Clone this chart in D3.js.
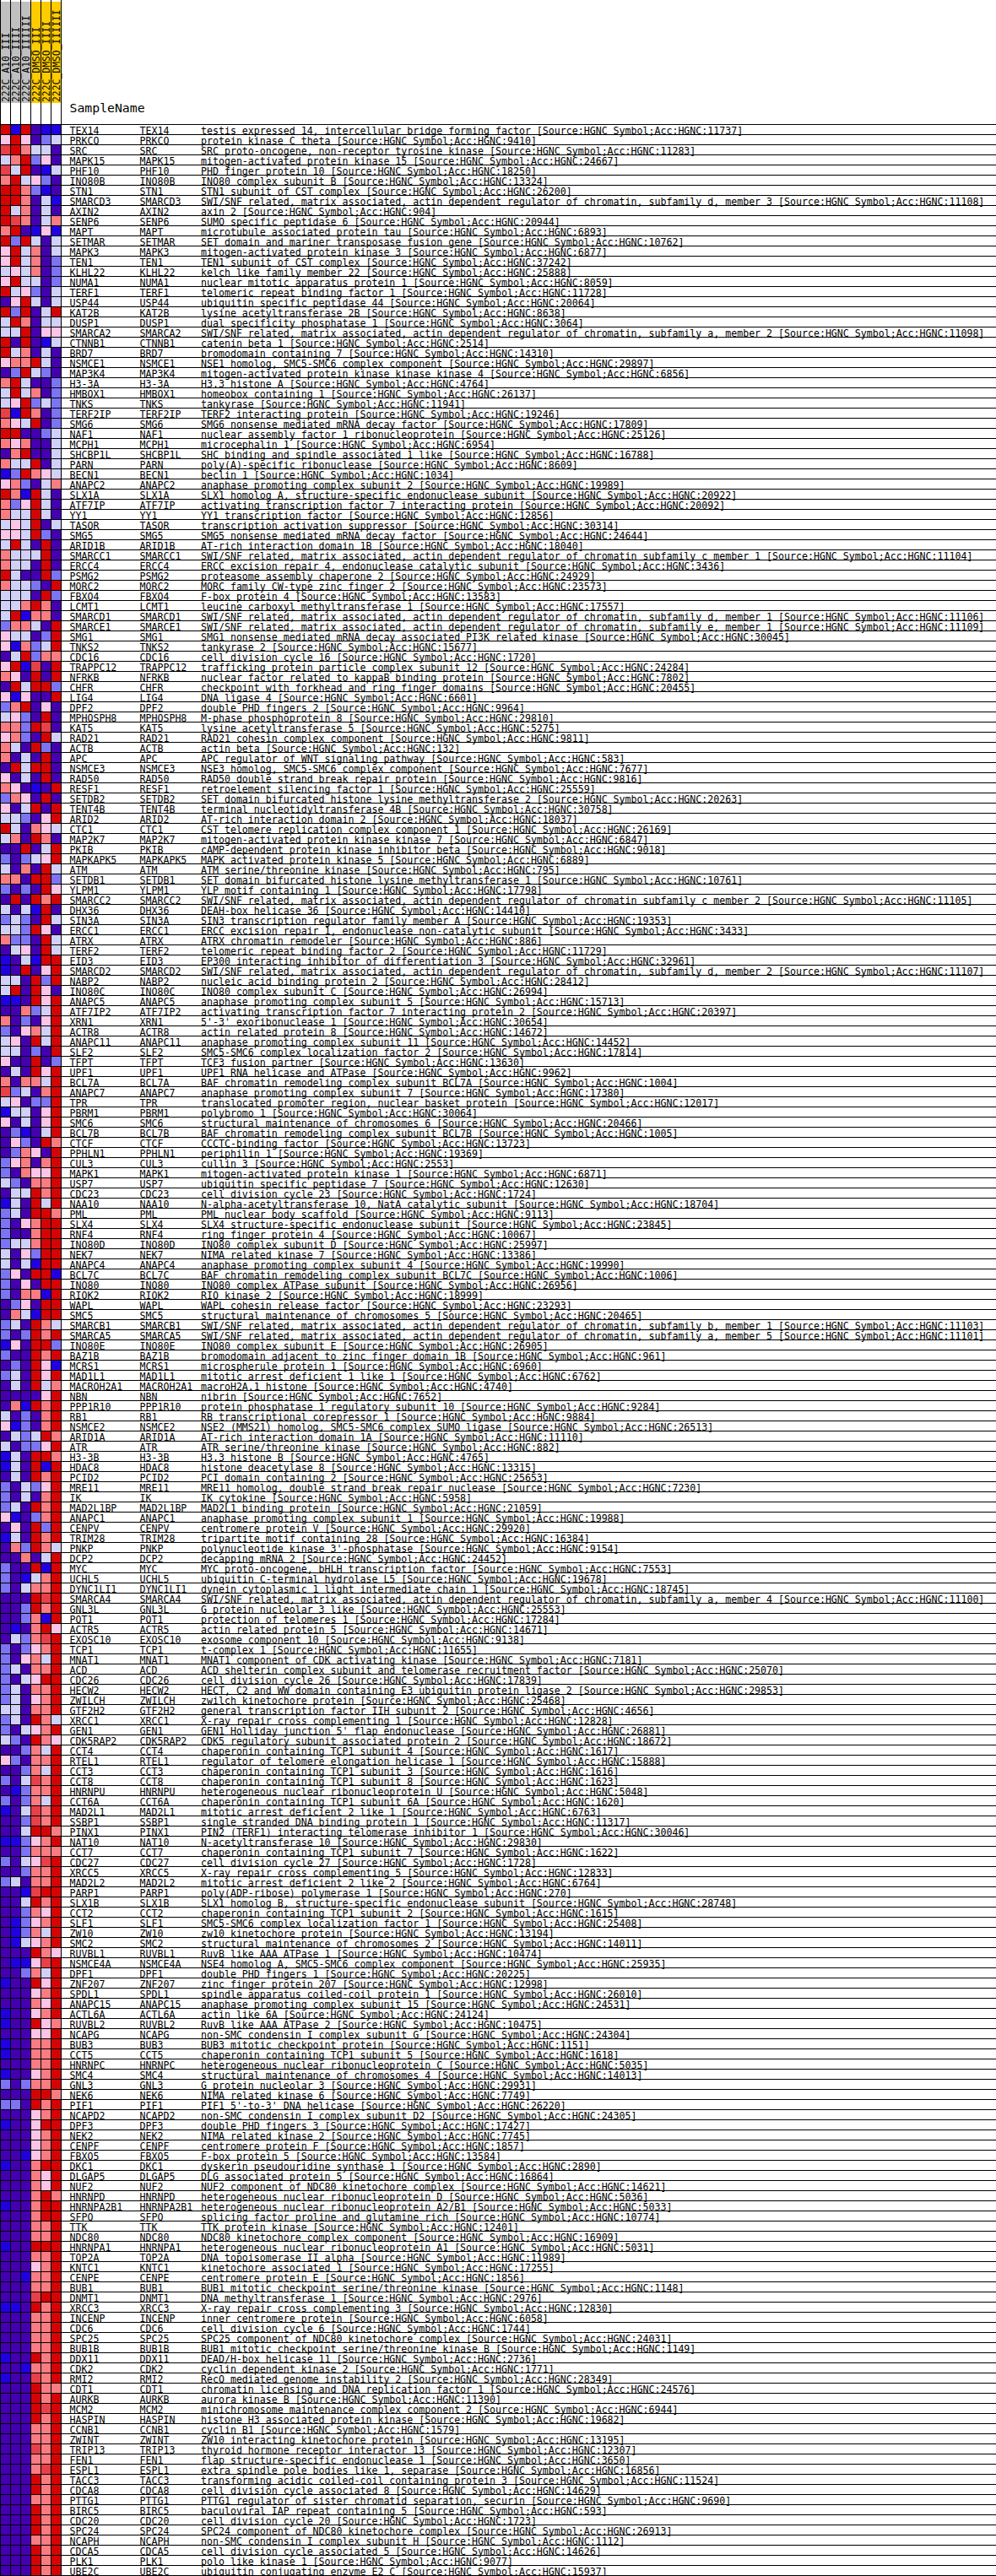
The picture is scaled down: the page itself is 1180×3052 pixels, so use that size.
<!DOCTYPE html>
<html>
<head>
<meta charset="utf-8">
<script src="https://cdn.jsdelivr.net/npm/d3@7"></script>
<style>
  html, body { margin: 0; padding: 0; background: #ffffff; }
  svg { display: block; }
  text { font-family: "DejaVu Sans Mono", monospace; fill: #000; }
</style>
</head>
<body>
<div id="chart"></div>
<script>
// ---------------- data ----------------
const sampleNames = ["222C_A10_III", "222C_A10_IIII", "222C_A10_IIIIII", "222C_DMSO_III", "222C_DMSO_IIII", "222C_DMSO_IIIIII"];
const sampleGroups = ["A10", "A10", "A10", "DMSO", "DMSO", "DMSO"];

const genes = ["TEX14","PRKCQ","SRC","MAPK15","PHF10","INO80B","STN1","SMARCD3","AXIN2","SENP6","MAPT","SETMAR","MAPK3","TEN1","KLHL22","NUMA1","TERF1","USP44","KAT2B","DUSP1","SMARCA2","CTNNB1","BRD7","NSMCE1","MAP3K4","H3-3A","HMBOX1","TNKS","TERF2IP","SMG6","NAF1","MCPH1","SHCBP1L","PARN","BECN1","ANAPC2","SLX1A","ATF7IP","YY1","TASOR","SMG5","ARID1B","SMARCC1","ERCC4","PSMG2","MORC2","FBXO4","LCMT1","SMARCD1","SMARCE1","SMG1","TNKS2","CDC16","TRAPPC12","NFRKB","CHFR","LIG4","DPF2","MPHOSPH8","KAT5","RAD21","ACTB","APC","NSMCE3","RAD50","RESF1","SETDB2","TENT4B","ARID2","CTC1","MAP2K7","PKIB","MAPKAPK5","ATM","SETDB1","YLPM1","SMARCC2","DHX36","SIN3A","ERCC1","ATRX","TERF2","EID3","SMARCD2","NABP2","INO80C","ANAPC5","ATF7IP2","XRN1","ACTR8","ANAPC11","SLF2","TFPT","UPF1","BCL7A","ANAPC7","TPR","PBRM1","SMC6","BCL7B","CTCF","PPHLN1","CUL3","MAPK1","USP7","CDC23","NAA10","PML","SLX4","RNF4","INO80D","NEK7","ANAPC4","BCL7C","INO80","RIOK2","WAPL","SMC5","SMARCB1","SMARCA5","INO80E","BAZ1B","MCRS1","MAD1L1","MACROH2A1","NBN","PPP1R10","RB1","NSMCE2","ARID1A","ATR","H3-3B","HDAC8","PCID2","MRE11","IK","MAD2L1BP","ANAPC1","CENPV","TRIM28","PNKP","DCP2","MYC","UCHL5","DYNC1LI1","SMARCA4","GNL3L","POT1","ACTR5","EXOSC10","TCP1","MNAT1","ACD","CDC26","HECW2","ZWILCH","GTF2H2","XRCC1","GEN1","CDK5RAP2","CCT4","RTEL1","CCT3","CCT8","HNRNPU","CCT6A","MAD2L1","SSBP1","PINX1","NAT10","CCT7","CDC27","XRCC5","MAD2L2","PARP1","SLX1B","CCT2","SLF1","ZW10","SMC2","RUVBL1","NSMCE4A","DPF1","ZNF207","SPDL1","ANAPC15","ACTL6A","RUVBL2","NCAPG","BUB3","CCT5","HNRNPC","SMC4","GNL3","NEK6","PIF1","NCAPD2","DPF3","NEK2","CENPF","FBXO5","DKC1","DLGAP5","NUF2","HNRNPD","HNRNPA2B1","SFPQ","TTK","NDC80","HNRNPA1","TOP2A","KNTC1","CENPE","BUB1","DNMT1","XRCC3","INCENP","CDC6","SPC25","BUB1B","DDX11","CDK2","RMI2","CDT1","AURKB","MCM2","HASPIN","CCNB1","ZWINT","TRIP13","FEN1","ESPL1","TACC3","CDCA8","PTTG1","BIRC5","CDC20","SPC24","NCAPH","CDCA5","PLK1","UBE2C"];

const descriptions = ["testis expressed 14, intercellular bridge forming factor","protein kinase C theta","SRC proto-oncogene, non-receptor tyrosine kinase","mitogen-activated protein kinase 15","PHD finger protein 10","INO80 complex subunit B","STN1 subunit of CST complex","SWI/SNF related, matrix associated, actin dependent regulator of chromatin, subfamily d, member 3","axin 2","SUMO specific peptidase 6","microtubule associated protein tau","SET domain and mariner transposase fusion gene","mitogen-activated protein kinase 3","TEN1 subunit of CST complex","kelch like family member 22","nuclear mitotic apparatus protein 1","telomeric repeat binding factor 1","ubiquitin specific peptidase 44","lysine acetyltransferase 2B","dual specificity phosphatase 1","SWI/SNF related, matrix associated, actin dependent regulator of chromatin, subfamily a, member 2","catenin beta 1","bromodomain containing 7","NSE1 homolog, SMC5-SMC6 complex component","mitogen-activated protein kinase kinase kinase 4","H3.3 histone A","homeobox containing 1","tankyrase","TERF2 interacting protein","SMG6 nonsense mediated mRNA decay factor","nuclear assembly factor 1 ribonucleoprotein","microcephalin 1","SHC binding and spindle associated 1 like","poly(A)-specific ribonuclease","beclin 1","anaphase promoting complex subunit 2","SLX1 homolog A, structure-specific endonuclease subunit","activating transcription factor 7 interacting protein","YY1 transcription factor","transcription activation suppressor","SMG5 nonsense mediated mRNA decay factor","AT-rich interaction domain 1B","SWI/SNF related, matrix associated, actin dependent regulator of chromatin subfamily c member 1","ERCC excision repair 4, endonuclease catalytic subunit","proteasome assembly chaperone 2","MORC family CW-type zinc finger 2","F-box protein 4","leucine carboxyl methyltransferase 1","SWI/SNF related, matrix associated, actin dependent regulator of chromatin, subfamily d, member 1","SWI/SNF related, matrix associated, actin dependent regulator of chromatin, subfamily e, member 1","SMG1 nonsense mediated mRNA decay associated PI3K related kinase","tankyrase 2","cell division cycle 16","trafficking protein particle complex subunit 12","nuclear factor related to kappaB binding protein","checkpoint with forkhead and ring finger domains","DNA ligase 4","double PHD fingers 2","M-phase phosphoprotein 8","lysine acetyltransferase 5","RAD21 cohesin complex component","actin beta","APC regulator of WNT signaling pathway","NSE3 homolog, SMC5-SMC6 complex component","RAD50 double strand break repair protein","retroelement silencing factor 1","SET domain bifurcated histone lysine methyltransferase 2","terminal nucleotidyltransferase 4B","AT-rich interaction domain 2","CST telomere replication complex component 1","mitogen-activated protein kinase kinase 7","cAMP-dependent protein kinase inhibitor beta","MAPK activated protein kinase 5","ATM serine/threonine kinase","SET domain bifurcated histone lysine methyltransferase 1","YLP motif containing 1","SWI/SNF related, matrix associated, actin dependent regulator of chromatin subfamily c member 2","DEAH-box helicase 36","SIN3 transcription regulator family member A","ERCC excision repair 1, endonuclease non-catalytic subunit","ATRX chromatin remodeler","telomeric repeat binding factor 2","EP300 interacting inhibitor of differentiation 3","SWI/SNF related, matrix associated, actin dependent regulator of chromatin, subfamily d, member 2","nucleic acid binding protein 2","INO80 complex subunit C","anaphase promoting complex subunit 5","activating transcription factor 7 interacting protein 2","5'-3' exoribonuclease 1","actin related protein 8","anaphase promoting complex subunit 11","SMC5-SMC6 complex localization factor 2","TCF3 fusion partner","UPF1 RNA helicase and ATPase","BAF chromatin remodeling complex subunit BCL7A","anaphase promoting complex subunit 7","translocated promoter region, nuclear basket protein","polybromo 1","structural maintenance of chromosomes 6","BAF chromatin remodeling complex subunit BCL7B","CCCTC-binding factor","periphilin 1","cullin 3","mitogen-activated protein kinase 1","ubiquitin specific peptidase 7","cell division cycle 23","N-alpha-acetyltransferase 10, NatA catalytic subunit","PML nuclear body scaffold","SLX4 structure-specific endonuclease subunit","ring finger protein 4","INO80 complex subunit D","NIMA related kinase 7","anaphase promoting complex subunit 4","BAF chromatin remodeling complex subunit BCL7C","INO80 complex ATPase subunit","RIO kinase 2","WAPL cohesin release factor","structural maintenance of chromosomes 5","SWI/SNF related, matrix associated, actin dependent regulator of chromatin, subfamily b, member 1","SWI/SNF related, matrix associated, actin dependent regulator of chromatin, subfamily a, member 5","INO80 complex subunit E","bromodomain adjacent to zinc finger domain 1B","microspherule protein 1","mitotic arrest deficient 1 like 1","macroH2A.1 histone","nibrin","protein phosphatase 1 regulatory subunit 10","RB transcriptional corepressor 1","NSE2 (MMS21) homolog, SMC5-SMC6 complex SUMO ligase","AT-rich interaction domain 1A","ATR serine/threonine kinase","H3.3 histone B","histone deacetylase 8","PCI domain containing 2","MRE11 homolog, double strand break repair nuclease","IK cytokine","MAD2L1 binding protein","anaphase promoting complex subunit 1","centromere protein V","tripartite motif containing 28","polynucleotide kinase 3'-phosphatase","decapping mRNA 2","MYC proto-oncogene, bHLH transcription factor","ubiquitin C-terminal hydrolase L5","dynein cytoplasmic 1 light intermediate chain 1","SWI/SNF related, matrix associated, actin dependent regulator of chromatin, subfamily a, member 4","G protein nucleolar 3 like","protection of telomeres 1","actin related protein 5","exosome component 10","t-complex 1","MNAT1 component of CDK activating kinase","ACD shelterin complex subunit and telomerase recruitment factor","cell division cycle 26","HECT, C2 and WW domain containing E3 ubiquitin protein ligase 2","zwilch kinetochore protein","general transcription factor IIH subunit 2","X-ray repair cross complementing 1","GEN1 Holliday junction 5' flap endonuclease","CDK5 regulatory subunit associated protein 2","chaperonin containing TCP1 subunit 4","regulator of telomere elongation helicase 1","chaperonin containing TCP1 subunit 3","chaperonin containing TCP1 subunit 8","heterogeneous nuclear ribonucleoprotein U","chaperonin containing TCP1 subunit 6A","mitotic arrest deficient 2 like 1","single stranded DNA binding protein 1","PIN2 (TERF1) interacting telomerase inhibitor 1","N-acetyltransferase 10","chaperonin containing TCP1 subunit 7","cell division cycle 27","X-ray repair cross complementing 5","mitotic arrest deficient 2 like 2","poly(ADP-ribose) polymerase 1","SLX1 homolog B, structure-specific endonuclease subunit","chaperonin containing TCP1 subunit 2","SMC5-SMC6 complex localization factor 1","zw10 kinetochore protein","structural maintenance of chromosomes 2","RuvB like AAA ATPase 1","NSE4 homolog A, SMC5-SMC6 complex component","double PHD fingers 1","zinc finger protein 207","spindle apparatus coiled-coil protein 1","anaphase promoting complex subunit 15","actin like 6A","RuvB like AAA ATPase 2","non-SMC condensin I complex subunit G","BUB3 mitotic checkpoint protein","chaperonin containing TCP1 subunit 5","heterogeneous nuclear ribonucleoprotein C","structural maintenance of chromosomes 4","G protein nucleolar 3","NIMA related kinase 6","PIF1 5'-to-3' DNA helicase","non-SMC condensin I complex subunit D2","double PHD fingers 3","NIMA related kinase 2","centromere protein F","F-box protein 5","dyskerin pseudouridine synthase 1","DLG associated protein 5","NUF2 component of NDC80 kinetochore complex","heterogeneous nuclear ribonucleoprotein D","heterogeneous nuclear ribonucleoprotein A2/B1","splicing factor proline and glutamine rich","TTK protein kinase","NDC80 kinetochore complex component","heterogeneous nuclear ribonucleoprotein A1","DNA topoisomerase II alpha","kinetochore associated 1","centromere protein E","BUB1 mitotic checkpoint serine/threonine kinase","DNA methyltransferase 1","X-ray repair cross complementing 3","inner centromere protein","cell division cycle 6","SPC25 component of NDC80 kinetochore complex","BUB1 mitotic checkpoint serine/threonine kinase B","DEAD/H-box helicase 11","cyclin dependent kinase 2","RecQ mediated genome instability 2","chromatin licensing and DNA replication factor 1","aurora kinase B","minichromosome maintenance complex component 2","histone H3 associated protein kinase","cyclin B1","ZW10 interacting kinetochore protein","thyroid hormone receptor interactor 13","flap structure-specific endonuclease 1","extra spindle pole bodies like 1, separase","transforming acidic coiled-coil containing protein 3","cell division cycle associated 8","PTTG1 regulator of sister chromatid separation, securin","baculoviral IAP repeat containing 5","cell division cycle 20","SPC24 component of NDC80 kinetochore complex","non-SMC condensin I complex subunit H","cell division cycle associated 5","polo like kinase 1","ubiquitin conjugating enzyme E2 C"];

const hgncAcc = [11737,9410,11283,24667,18250,13324,26200,11108,904,20944,6893,10762,6877,37242,25888,8059,11728,20064,8638,3064,11098,2514,14310,29897,6856,4764,26137,11941,19246,17809,25126,6954,16788,8609,1034,19989,20922,20092,12856,30314,24644,18040,11104,3436,24929,23573,13583,17557,11106,11109,30045,15677,1720,24284,7802,20455,6601,9964,29810,5275,9811,132,583,7677,9816,25559,20263,30758,18037,26169,6847,9018,6889,795,10761,17798,11105,14410,19353,3433,886,11729,32961,11107,28412,26994,15713,20397,30654,14672,14452,17814,13630,9962,1004,17380,12017,30064,20466,1005,13723,19369,2553,6871,12630,1724,18704,9113,23845,10067,25997,13386,19990,1006,26956,18999,23293,20465,11103,11101,26905,961,6960,6762,4740,7652,9284,9884,26513,11110,882,4765,13315,25653,7230,5958,21059,19988,29920,16384,9154,24452,7553,19678,18745,11100,25553,17284,14671,9138,11655,7181,25070,17839,29853,25468,4656,12828,26881,18672,1617,15888,1616,1623,5048,1620,6763,11317,30046,29830,1622,1728,12833,6764,270,28748,1615,25408,13194,14011,10474,25935,20225,12998,26010,24531,24124,10475,24304,1151,1618,5035,14013,29931,7749,26220,24305,17427,7745,1857,13584,2890,16864,14621,5036,5033,10774,12401,16909,5031,11989,17255,1856,1148,2976,12830,6058,1744,24031,1149,2736,1771,28349,24576,11390,6944,19682,1579,13195,12307,3650,16856,11524,14629,9690,593,1723,26913,1112,14626,9077,15937];

// row-standardised expression level per sample (binned, -4 .. 4, no zero)
const values = [
[4,-3,4,-4,-3,-3],[1,4,1,-4,-2,-1],[3,4,2,-1,-1,-4],[-1,2,4,-2,1,-4],[3,-1,4,-4,-3,-1],
[2,4,-1,1,-2,-4],[4,4,2,-2,-3,-4],[4,4,2,-4,-1,-3],[4,-1,2,-4,-1,-4],[4,3,2,-4,-1,2],
[2,4,-4,-3,1,-3],[4,-2,4,-1,-4,-1],[1,4,-1,2,-4,-1],[1,4,-1,2,-4,-2],[-1,1,-1,2,-4,-2],
[1,4,-1,-1,-4,-2],[4,-1,1,-2,-4,-1],[-4,1,4,-1,-4,-1],[4,-2,4,-4,-1,4],[-1,4,2,-4,-1,-1],
[-1,-1,4,-4,1,1],[4,-4,4,-4,-3,-1],[4,-1,2,-4,-1,-4],[1,2,2,4,-1,-4],[-4,-2,4,-1,-2,-4],
[2,4,-1,-4,-4,-2],[-1,4,-1,2,-4,-2],[-1,1,4,-2,-1,-2],[3,-3,4,2,-4,-2],[2,1,-1,4,-4,-2],
[4,4,-4,-4,-2,-1],[2,1,2,-4,-4,-1],[-4,2,4,-4,-4,-1],[2,-1,-1,4,-4,-1],[-3,-2,4,2,1,-1],
[1,2,-2,-4,-1,2],[4,2,-3,4,-1,-4],[2,-2,1,4,-1,-4],[2,-1,-1,4,-1,-4],[-1,1,-1,4,-4,-1],
[1,1,-1,4,-2,-4],[-1,4,-1,-4,4,-4],[2,-1,-1,-1,4,-4],[2,-1,-1,-4,4,-4],[4,-1,-4,-4,4,-2],
[2,-1,-1,-2,-4,4],[-1,-1,-1,-4,4,-2],[-1,-1,2,4,2,-4],[-1,4,-3,2,2,-4],[-2,2,2,-1,-4,4],
[1,-1,-1,-4,-2,4],[1,-3,2,-2,-1,4],[-4,-1,4,-2,2,2],[1,4,-3,3,-4,4],[2,1,-4,4,-4,4],
[-4,4,-1,4,4,-2],[1,-3,1,-4,-4,4],[-2,2,4,-4,1,-4],[-1,1,-2,-4,4,-4],[2,2,-2,4,3,-4],
[1,2,-2,-4,4,-1],[2,-1,-4,4,-2,-4],[2,-4,-1,-4,4,-4],[-4,4,-1,4,4,-4],[1,-4,-1,-4,4,-4],
[2,1,-4,-3,-4,4],[-2,2,1,-4,4,-4],[1,-4,-1,4,-4,4],[-1,-1,-2,-4,1,4],[4,-1,-4,2,1,-1],
[-1,2,-4,4,2,-4],[-4,-4,4,-4,-1,4],[-2,-4,-2,-1,1,4],[-1,-4,2,-4,4,-1],[2,2,-4,4,4,-2],
[-2,-4,-2,-4,4,1],[-4,4,-4,4,2,4],[-1,-4,-1,-3,4,-4],[-2,-1,-2,-4,4,-1],[-1,-1,-2,4,1,-4],
[2,-2,-2,-4,4,-1],[-4,-1,1,-4,4,-1],[-3,-4,-1,-3,4,4],[-3,-4,4,-4,1,4],[-1,-1,-4,4,-2,4],
[-1,4,-4,4,1,-4],[-3,-3,-4,4,1,4],[-4,-4,2,-2,-1,4],[2,-4,-2,-4,1,4],[-2,-4,1,2,-1,4],
[-1,1,-4,4,-1,4],[-1,-1,-4,-2,-4,4],[1,-4,-4,4,-4,-2],[-4,-1,-4,4,1,4],[2,-4,2,2,-1,4],
[3,-2,-1,-4,2,4],[-1,1,-4,-2,-2,4],[-3,-1,-1,-4,1,4],[1,-4,-1,-4,1,4],[-4,-2,-3,-4,-1,4],
[-4,1,-2,-4,4,2],[-4,-2,2,1,-4,4],[-2,1,2,-4,2,4],[-2,-4,2,1,1,4],[-1,-2,-4,2,2,4],
[-4,-1,-1,4,2,4],[-3,-1,-4,4,-1,4],[-2,-1,-4,4,4,2],[-2,-4,1,2,4,4],[-2,-4,-4,2,4,4],
[-2,-1,-1,2,4,4],[-1,-4,1,-2,4,4],[-1,-4,-1,-3,4,4],[-2,1,-4,4,4,-3],[-2,-4,1,-4,4,4],
[-2,-4,2,2,-3,4],[-4,-2,1,-4,4,4],[-4,2,-1,-3,4,4],[-2,-1,-4,4,2,-1],[-2,-4,-2,4,2,4],
[-3,1,-4,4,4,-2],[-2,-4,-4,4,2,4],[-4,-2,-4,4,1,-3],[-2,-1,-4,4,1,4],[-4,-1,-4,4,-1,2],
[-4,-4,-4,-4,1,4],[-4,2,-3,4,2,4],[-1,-4,-2,-4,2,4],[1,-3,-2,-4,2,4],[-4,-1,-2,-1,4,2],
[-1,-4,-2,-2,1,4],[-3,-1,-4,4,4,2],[-3,-1,-4,4,-3,4],[-4,-1,-4,4,2,4],[-2,-4,-1,-2,1,4],
[-2,-4,-1,-4,2,4],[-2,-1,-4,4,2,4],[1,-3,-4,-2,2,4],[-4,1,-4,4,-2,4],[-3,-1,-4,4,2,4],
[-4,2,-2,4,2,-1],[-4,-4,2,-4,-1,4],[-2,-4,-4,4,-3,4],[-2,-4,-3,-1,2,4],[-2,-4,-1,2,2,4],
[-4,-4,-4,4,3,4],[-4,-4,-2,4,2,4],[-4,-4,-2,2,-3,4],[-4,-3,-4,2,4,1],[-4,-1,-2,2,3,4],
[-2,-4,-2,1,2,4],[-2,-4,1,2,-1,4],[-2,-1,-4,2,2,4],[-2,-4,-1,1,4,4],[-2,-1,-4,2,2,4],
[-2,-1,-4,1,2,4],[-1,-1,-4,2,2,4],[-2,-1,-4,4,2,-1],[-2,-4,-1,1,2,4],[-1,-2,-4,4,2,1],
[-4,-4,-2,2,-1,4],[1,-2,-4,2,2,4],[-4,-4,-2,2,-1,4],[-2,-4,-1,3,2,4],[-4,-3,-2,2,2,4],
[-2,-4,-2,2,-1,4],[-3,-4,-1,3,2,4],[-4,-4,-2,3,2,4],[-4,-4,-1,4,4,2],[-3,-3,-2,1,2,4],
[-4,-4,-2,2,2,2],[-2,-4,-1,1,3,4],[-4,-4,-2,2,2,4],[-2,-1,-4,2,2,4],[-4,-4,-3,3,4,4],
[-4,-4,-1,4,2,4],[-4,-4,-2,2,1,4],[-4,-3,-2,1,2,4],[-4,-3,-2,2,-1,4],[-4,-3,-1,1,2,4],
[-4,-4,-4,4,2,1],[-4,-3,-3,1,3,4],[-4,-4,-2,2,-1,4],[-3,-4,-4,4,1,4],[-4,-4,-4,1,2,4],
[-4,-4,-4,2,1,4],[-3,-4,-4,1,2,4],[-3,-4,-4,4,1,2],[-4,-4,-4,1,1,4],[-3,-4,-4,2,2,4],
[-3,-4,-4,2,2,4],[-4,-4,-4,2,2,4],[-3,-4,-4,1,2,4],[-2,-4,-2,2,2,4],[-4,-4,-4,4,4,2],
[-2,-2,-4,4,2,4],[-4,-4,-4,1,2,4],[-3,-4,-4,1,4,4],[-4,-4,-4,1,2,4],[-4,-4,-4,1,2,4],
[-4,-4,-3,1,2,4],[-3,-4,-4,2,4,4],[-4,-4,-4,2,1,4],[-4,-4,-4,2,1,4],[-4,-4,-4,2,4,2],
[-3,-4,-4,2,4,4],[-4,-4,-4,2,4,4],[-4,-4,-4,2,2,4],[-4,-4,-4,2,2,4],[-3,-4,-4,4,4,4],
[-4,-4,-4,2,2,4],[-4,-4,-4,1,2,4],[-4,-4,-3,2,2,4],[-4,-4,-4,2,2,4],[-4,-4,-4,3,4,4],
[-3,-3,-4,4,2,4],[-4,-4,-4,2,2,4],[-4,-4,-4,2,2,4],[-4,-4,-4,2,2,4],[-4,-4,-4,2,2,4],
[-3,-4,-4,4,2,4],[-4,-4,-3,2,2,4],[-3,-4,-4,3,2,4],[-4,-4,-4,4,2,2],[-4,-4,-4,4,2,4],
[-4,-4,-4,4,3,4],[-4,-4,-4,4,2,4],[-4,-4,-4,2,2,4],[-4,-4,-4,2,2,4],[-4,-4,-4,3,2,4],
[-4,-4,-4,2,2,4],[-4,-4,-4,2,3,4],[-4,-4,-4,4,2,4],[-4,-4,-4,4,2,4],[-4,-4,-4,2,2,4],
[-4,-4,-4,4,2,4],[-4,-4,-4,4,2,4],[-4,-4,-4,4,2,4],[-4,-4,-4,2,2,4],[-4,-4,-4,4,2,4],
[-4,-4,-4,4,2,4],[-4,-4,-4,4,2,4]
];

const levelDomain = [-4, -3, -2, -1, 1, 2, 3, 4];
const levelColors = ["#4400b0", "#2000e0", "#7c74f2", "#d0d0f8", "#fcc4e6", "#f87c82", "#e84048", "#d40404"];
const groupColors = { A10: "#c0c0c0", DMSO: "#ffcc00" };

// ---------------- layout ----------------
const W = 1180, H = 3052;
const cell = 12;
const gridTop = 147.5;
const headerTop = 2, headerBottom = 122;
const labelX1 = 82.5, labelX2 = 165.5, descX = 238;

const svg = d3.select("#chart").append("svg")
  .attr("width", W).attr("height", H)
  .attr("viewBox", `0 0 ${W} ${H}`);

const x = d3.scaleBand().domain(d3.range(sampleNames.length)).range([0.5, 0.5 + cell * sampleNames.length]).padding(0);
const y = d3.scaleBand().domain(d3.range(genes.length)).range([gridTop, gridTop + cell * genes.length]).padding(0);
const color = d3.scaleLinear().domain(levelDomain).range(levelColors).interpolate(d3.interpolateRgb);

// header column colour blocks
svg.append("g").selectAll("rect")
  .data(sampleNames)
  .join("rect")
  .attr("x", (d, i) => x(i))
  .attr("y", headerTop)
  .attr("width", x.bandwidth())
  .attr("height", headerBottom - headerTop)
  .attr("fill", (d, i) => groupColors[sampleGroups[i]]);

// header rotated labels
svg.append("g").selectAll("text")
  .data(sampleNames)
  .join("text")
  .attr("transform", (d, i) => `translate(${x(i) + x.bandwidth() - 1.8},${headerBottom - 1}) rotate(-90)`)
  .attr("font-size", 11.4)
  .text(d => d);

svg.append("text")
  .attr("x", labelX1).attr("y", 133)
  .attr("font-size", 14.8)
  .text("SampleName");

// heatmap cells
const rows = svg.append("g").selectAll("g")
  .data(values)
  .join("g")
  .attr("transform", (d, i) => `translate(0,${y(i)})`);

rows.selectAll("rect")
  .data(d => d)
  .join("rect")
  .attr("x", (v, j) => x(j))
  .attr("y", 0)
  .attr("width", x.bandwidth())
  .attr("height", y.bandwidth())
  .attr("fill", v => color(v));

// horizontal row separators (full width)
const hLines = d3.range(genes.length + 1).map(i => gridTop + i * cell);
svg.append("g").selectAll("line")
  .data(hLines)
  .join("line")
  .attr("x1", 0).attr("x2", W)
  .attr("y1", d => d).attr("y2", d => d)
  .attr("stroke", "#000").attr("stroke-width", 1);

// vertical column separators (from top to bottom)
const vLines = d3.range(sampleNames.length + 1).map(j => 0.5 + j * cell);
svg.append("g").selectAll("line")
  .data(vLines)
  .join("line")
  .attr("x1", d => d).attr("x2", d => d)
  .attr("y1", 0).attr("y2", H)
  .attr("stroke", "#000").attr("stroke-width", 1);

// text columns
const txt = svg.append("g").attr("font-size", 11.6);
txt.selectAll("text.g1")
  .data(genes)
  .join("text").attr("class", "g1")
  .attr("x", labelX1).attr("y", (d, i) => y(i) + y.bandwidth() - 0.5)
  .text(d => d);
txt.selectAll("text.g2")
  .data(genes)
  .join("text").attr("class", "g2")
  .attr("x", labelX2).attr("y", (d, i) => y(i) + y.bandwidth() - 0.5)
  .text(d => d);
txt.selectAll("text.desc")
  .data(descriptions)
  .join("text").attr("class", "desc")
  .attr("x", descX).attr("y", (d, i) => y(i) + y.bandwidth() - 0.5)
  .text((d, i) => `${d} [Source:HGNC Symbol;Acc:HGNC:${hgncAcc[i]}]`);
</script>
</body>
</html>
